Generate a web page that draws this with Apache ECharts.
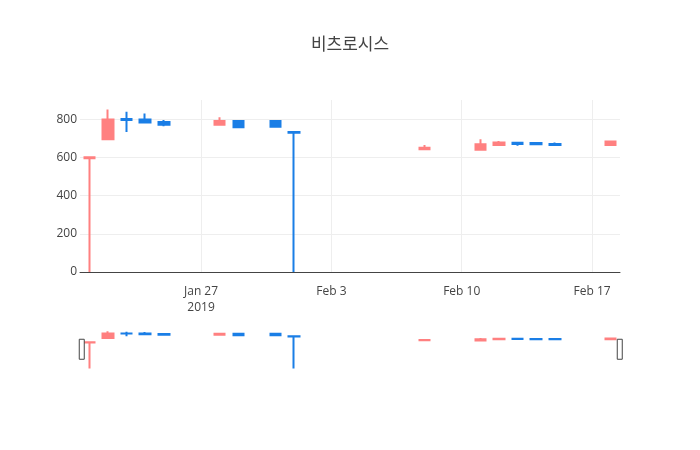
<!DOCTYPE html>
<html>
<head>
<meta charset="utf-8">
<script src="https://cdn.jsdelivr.net/npm/echarts@6/dist/echarts.min.js"></script>
<style>html,body{margin:0;padding:0;background:#fff}#c{width:700px;height:450px}</style>
</head>
<body>
<div id="c"></div>
<script>
const titleText = '비츠로시스';
const dates = ['2019-01-21','2019-01-22','2019-01-23','2019-01-24','2019-01-25','2019-01-28','2019-01-29','2019-01-31','2019-02-01','2019-02-08','2019-02-11','2019-02-12','2019-02-13','2019-02-14','2019-02-15','2019-02-18'];
const openVals  = [595, 695, 800, 798, 785, 770, 790, 790, 732, 642, 640, 665, 676, 675, 670, 665];
const closeVals = [600, 798, 795, 782, 771, 790, 758, 760, 728, 650, 668, 677, 670, 668, 665, 683];
const lowVals   = [0, 690, 732, 780, 763, 768, 756, 758, 0, 638, 638, 663, 660, 667, 664, 663];
const highVals  = [600, 850, 838, 830, 795, 810, 795, 796, 732, 664, 695, 686, 678, 676, 677, 685];
const tickDates = ['2019-01-27','2019-02-03','2019-02-10','2019-02-17'];
const yTicks = [0, 200, 400, 600, 800];

const upColor = '#ff8080';
const downColor = '#1a7ee6';
const months = ['Jan','Feb','Mar','Apr','May','Jun','Jul','Aug','Sep','Oct','Nov','Dec'];

function ts(s){ const p = s.split('-').map(Number); return new Date(p[0], p[1]-1, p[2]).getTime(); }
const HALF = 12*3600*1000;
const xMin = ts(dates[0]) - HALF;
const xMax = ts(dates[dates.length-1]) + HALF;
const candleData = dates.map((d,i)=>[ts(d), openVals[i], closeVals[i], lowVals[i], highVals[i]]);
const tickTs = tickDates.map(ts);

const chart = echarts.init(document.getElementById('c'));
const itemStyle = {color: upColor, color0: downColor, borderColor: upColor, borderColor0: downColor, borderWidth: 2};
chart.setOption({
  animation: false,
  backgroundColor: '#fff',
  title: {text: titleText, left: 'center', top: 30, textStyle: {fontFamily: 'Noto Sans CJK KR', fontSize: 17, fontWeight: 'normal', color: '#444'}},
  grid: [
    {left: 80, right: 80, top: 100, height: 172},
    {left: 80, right: 80, top: 329, height: 39.5}
  ],
  xAxis: [
    {type: 'value', gridIndex: 0, min: xMin, max: xMax, scale: true,
     axisLine: {show: true, onZero: false, lineStyle: {color: '#444', width: 1}},
     axisTick: {show: false, customValues: tickTs},
     splitLine: {show: true, lineStyle: {color: '#eee', width: 1}},
     axisLabel: {customValues: tickTs, color: '#444', fontFamily: 'Open Sans', fontSize: 12, margin: 12, lineHeight: 16,
       formatter: function(v){ const d = new Date(v); let s = months[d.getMonth()] + ' ' + d.getDate(); if (v === tickTs[0]) s += '\n' + d.getFullYear(); return s; }}
    },
    {type: 'value', gridIndex: 1, min: xMin, max: xMax, scale: true, show: false}
  ],
  yAxis: [
    {type: 'value', gridIndex: 0, min: 0, max: 900, interval: 200,
     axisLine: {show: false}, axisTick: {show: false},
     splitLine: {show: true, showMaxLine: false, showMinLine: false, lineStyle: {color: '#eee', width: 1}},
     axisLabel: {color: '#444', fontFamily: 'Open Sans', fontSize: 12, margin: 3, showMaxLabel: false,
       formatter: function(v){ return yTicks.indexOf(v) >= 0 ? String(v) : ''; }}
    },
    {type: 'value', gridIndex: 1, min: 0, max: 900, show: false}
  ],
  dataZoom: [{
    type: 'slider', xAxisIndex: [1], filterMode: 'none', start: 0, end: 100,
    left: 80, right: 80, top: 329, height: 39.5,
    backgroundColor: 'rgba(0,0,0,0)', borderColor: 'rgba(0,0,0,0)', fillerColor: 'rgba(0,0,0,0)',
    showDataShadow: false, showDetail: false, brushSelect: false, moveHandleSize: 0,
    handleIcon: 'path://M0,0 L5,0 L5,20 L0,20 Z', handleSize: 20,
    handleStyle: {color: '#fff', borderColor: '#444', borderWidth: 1},
    emphasis: {handleStyle: {color: '#fff', borderColor: '#444', borderWidth: 1}}
  }],
  series: [
    {type: 'candlestick', xAxisIndex: 0, yAxisIndex: 0, data: candleData, barWidth: 11, itemStyle: itemStyle},
    {type: 'candlestick', xAxisIndex: 1, yAxisIndex: 1, data: candleData, barWidth: 11, itemStyle: itemStyle, silent: true}
  ]
});
</script>
</body>
</html>
